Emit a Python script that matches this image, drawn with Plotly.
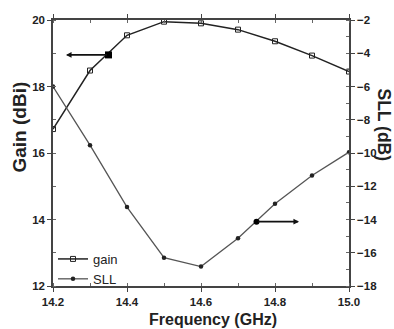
import plotly.graph_objects as go

freq = [14.2, 14.3, 14.4, 14.5, 14.6, 14.7, 14.8, 14.9, 15.0]
gain = [16.72, 18.48, 19.54, 19.95, 19.9, 19.71, 19.36, 18.93, 18.45]
sll = [-6.0, -9.53, -13.25, -16.3, -16.83, -15.13, -13.05, -11.35, -9.95]

gain_mark = (14.35, 18.95)
gain_arrow_tip = 14.235
sll_mark = (14.75, -14.13)
sll_arrow_tip = 14.865

FONT = "Liberation Sans, Arial, sans-serif"

fig = go.Figure()
fig.add_trace(go.Scatter(x=freq, y=gain, name="gain", mode="lines+markers",
                         line=dict(color="#222222", width=1.5),
                         marker=dict(symbol="square-open", size=5, color="#222222",
                                     line=dict(width=1))))
fig.add_trace(go.Scatter(x=freq, y=sll, name="SLL", mode="lines+markers", yaxis="y2",
                         line=dict(color="#555555", width=1.3),
                         marker=dict(symbol="circle", size=4.5, color="#222222")))
fig.add_trace(go.Scatter(x=[gain_mark[0]], y=[gain_mark[1]], mode="markers", showlegend=False,
                         marker=dict(symbol="square", size=7, color="#000000")))
fig.add_trace(go.Scatter(x=[sll_mark[0]], y=[sll_mark[1]], mode="markers", showlegend=False,
                         yaxis="y2", marker=dict(symbol="circle", size=6, color="#000000")))

fig.add_annotation(x=gain_arrow_tip, y=gain_mark[1], ax=gain_mark[0], ay=gain_mark[1],
                   xref="x", yref="y", axref="x", ayref="y", showarrow=True,
                   arrowhead=2, arrowsize=0.7, arrowwidth=1.6, arrowcolor="#111111", text="")
fig.add_annotation(x=sll_arrow_tip, y=sll_mark[1], ax=sll_mark[0], ay=sll_mark[1],
                   xref="x", yref="y2", axref="x", ayref="y2", showarrow=True,
                   arrowhead=2, arrowsize=0.7, arrowwidth=1.6, arrowcolor="#111111", text="")

W, H = 394, 329
L, R, T, B = 53, 45, 20, 43
pw, ph = W - L - R, H - T - B

def px(xp):
    return (xp - L) / pw

def py(yp):
    return 1 - (yp - T) / ph

fig.add_annotation(text="<b>Gain (dBi)</b>", xref="paper", yref="paper",
                   x=px(19.5), y=py(127), xanchor="center", yanchor="middle",
                   textangle=-90, showarrow=False,
                   font=dict(family=FONT, size=19, color="#222222"))
fig.add_annotation(text="<b>SLL (dB)</b>", xref="paper", yref="paper",
                   x=px(383.5), y=py(125), xanchor="center", yanchor="middle",
                   textangle=90, showarrow=False,
                   font=dict(family=FONT, size=17.5, color="#222222"))
fig.add_annotation(text="<b>Frequency (GHz)</b>", xref="paper", yref="paper",
                   x=px(213), y=py(319), xanchor="center", yanchor="middle", showarrow=False,
                   font=dict(family=FONT, size=16, color="#222222"))

axis_common = dict(showline=True, linecolor="#444444", linewidth=1.5, showgrid=False,
                   zeroline=False, ticks="outside", ticklen=4, tickwidth=1, tickcolor="#444444",
                   tickfont=dict(family=FONT, size=11.5, color="#222222"),
                   tickprefix="<b>", ticksuffix="</b>", automargin=False)

fig.update_layout(
    width=W, height=H,
    margin=dict(l=L, r=R, t=T, b=B),
    plot_bgcolor="white", paper_bgcolor="white",
    font=dict(family=FONT, color="#222222"),
    xaxis=dict(range=[14.2, 15.0], dtick=0.2, tick0=14.2, tickformat=".1f", mirror="ticks",
               minor=dict(ticks="inside", ticklen=3, dtick=0.1, tickcolor="#666666"),
               **axis_common),
    yaxis=dict(range=[12, 20], dtick=2, tick0=12,
               minor=dict(ticks="inside", ticklen=3, dtick=1, tickcolor="#666666"),
               **axis_common),
    yaxis2=dict(range=[-18, -2], dtick=2, tick0=-18, overlaying="y", side="right",
                minor=dict(ticks="inside", ticklen=3, dtick=1, tickcolor="#666666"),
                **axis_common),
    legend=dict(x=0.0, y=-0.03, xanchor="left", yanchor="bottom", bgcolor="rgba(0,0,0,0)",
                font=dict(family=FONT, size=13, color="#222222"), itemwidth=30,
                tracegroupgap=0),
)

fig.write_html("out.html")
